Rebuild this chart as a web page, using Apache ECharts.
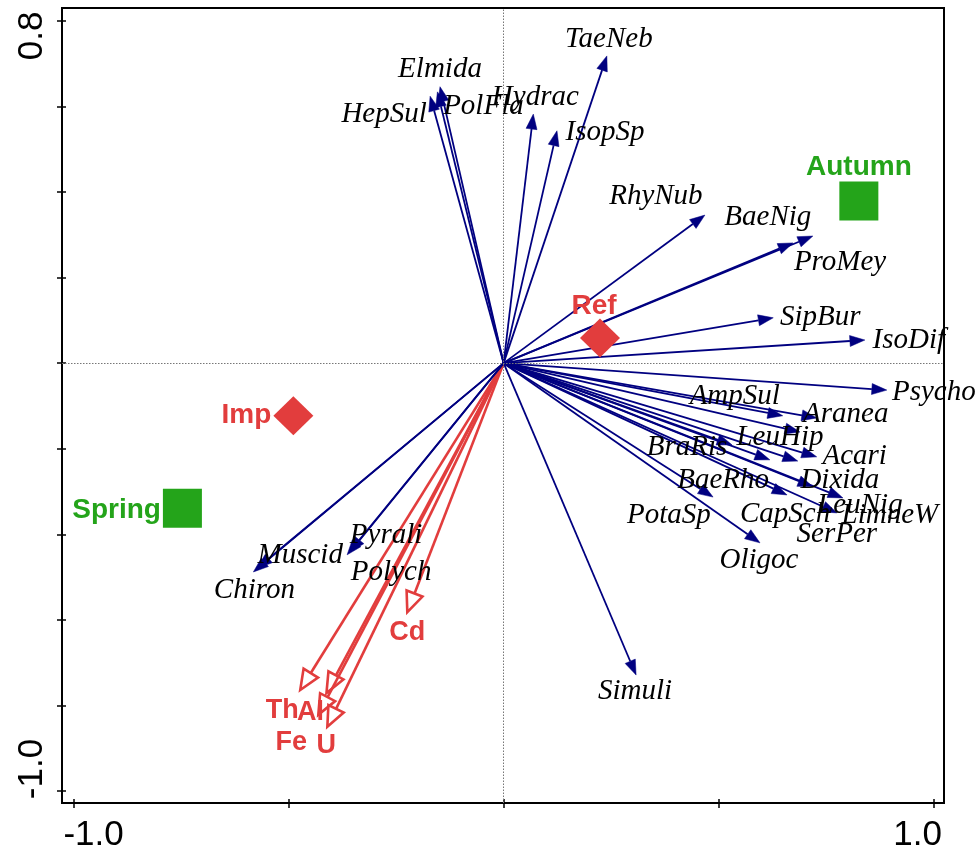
<!DOCTYPE html>
<html>
<head>
<meta charset="utf-8">
<script src="https://cdn.jsdelivr.net/npm/echarts@6/dist/echarts.min.js"></script>
<style>
  html, body { margin: 0; padding: 0; background: #fff; }
  #chart { width: 979px; height: 854px; }
</style>
</head>
<body>
<div id="chart"></div>
<script>
// ---------------- DATA ----------------
const speciesNames = ['TaeNeb','Elmida','PolFla','HepSul','Hydrac','IsopSp','RhyNub','BaeNig','ProMey','SipBur','IsoDif','Psycho','AmpSul','Aranea','LeuHip','BraRis','Acari','PotaSp','SerPer','BaeRho','CapSch','Dixida','LeuNig','LimneW','Oligoc','Simuli','Chiron','Muscid','Pyrali','Polych'];
const speciesAxis1 = [0.240,-0.148,-0.154,-0.171,0.069,0.124,0.468,0.719,0.673,0.627,0.840,0.891,0.649,0.728,0.689,0.531,0.728,0.619,0.684,0.487,0.659,0.719,0.789,0.775,0.596,0.308,-0.582,-0.573,-0.364,-0.357];
const speciesAxis2 = [0.718,0.646,0.634,0.624,0.582,0.543,0.346,0.297,0.281,0.106,0.054,-0.063,-0.123,-0.128,-0.161,-0.191,-0.219,-0.226,-0.229,-0.313,-0.308,-0.289,-0.315,-0.350,-0.420,-0.729,-0.488,-0.479,-0.448,-0.441];

const envNames = ['Cd','Th','Al','Fe','U'];
const envAxis1 = [-0.224,-0.473,-0.412,-0.431,-0.410];
const envAxis2 = [-0.582,-0.764,-0.771,-0.822,-0.850];

const sampleNames = ['Ref','Imp','Autumn','Spring'];
const sampleKinds = ['site','site','season','season'];
const sampleAxis1 = [0.224,-0.489,0.826,-0.747];
const sampleAxis2 = [0.059,-0.123,0.379,-0.339];

const xTickValues = [-1.0,-0.5,0,0.5,1.0];
const xLabelValues = [-1.0, 1.0];
const xLabelTexts = ['-1.0','1.0'];
const yTickValues = [-1.0,-0.8,-0.6,-0.4,-0.2,0,0.2,0.4,0.6,0.8];
const yLabelValues = [-1.0, 0.8];
const yLabelTexts = ['-1.0','0.8'];

// ---------------- LAYOUT / STYLE ----------------
const NAVY = '#000080';
const RED = '#E23D3D';
const GREEN = '#24A41A';
const X_RANGE = [-1.027, 1.024];
const Y_RANGE = [-1.028, 0.830];

// label offsets (pixels) from arrow tips
const speciesLabelOffset = {
  TaeNeb:[2,-17], Elmida:[0,-17], PolFla:[46,15], HepSul:[-46,18], Hydrac:[2,-17], IsopSp:[48,2],
  RhyNub:[-49,-19], BaeNig:[-45,-19], ProMey:[47,19], SipBur:[47,0], IsoDif:[44,0], Psycho:[47,2],
  AmpSul:[-48,-19], Aranea:[29,-4], LeuHip:[-20,5], BraRis:[-45,3], Acari:[38,0], PotaSp:[-101,56],
  SerPer:[39,73], BaeRho:[10,-17], CapSch:[-2,19], Dixida:[27,-6], LeuNig:[17,7], LimneW:[53,2],
  Oligoc:[-1,18], Simuli:[-1,16], Chiron:[1,18], Muscid:[43,-13], Pyrali:[39,-19], Polych:[41,21]
};
const envLabelOffset = { Cd:[0,20], Th:[-18,21], Al:[-16,20], Fe:[-27,28], U:[-1,19] };
const sampleLabelStyle = {
  Ref:{position:'top', offset:[-6,6]},
  Imp:{position:'left', offset:[2,0]},
  Autumn:{position:'top', offset:[0,4]},
  Spring:{position:'left', offset:[2,2]}
};

function arrowItem(params, api, opts) {
  const t = api.coord([api.value(0), api.value(1)]);
  const o = api.coord([0, 0]);
  const dx = t[0]-o[0], dy = t[1]-o[1];
  const L = Math.hypot(dx, dy);
  const ux = dx/L, uy = dy/L, px = -uy, py = ux;
  const bx = t[0]-ux*opts.hl, by = t[1]-uy*opts.hl;
  const pts = [[t[0],t[1]],[bx+px*opts.hw,by+py*opts.hw],[bx-px*opts.hw,by-py*opts.hw]];
  const name = opts.names[params.dataIndex];
  const off = opts.offsets[name] || [0,0];
  return {
    type: 'group',
    children: [
      { type:'line', shape:{x1:o[0], y1:o[1], x2:bx, y2:by}, style:{stroke:opts.color, lineWidth:opts.lw} },
      { type:'polygon', shape:{points:pts},
        style: opts.open ? {fill:'#fff', stroke:opts.color, lineWidth:opts.lw, lineJoin:'miter'} : {fill:opts.color, stroke:opts.color, lineWidth:0.5} },
      { type:'text', x:t[0]+off[0], y:t[1]+off[1], z2:20,
        style:{ text:name, fill:opts.textColor, font:opts.font,
                align:'center', verticalAlign:'middle', textAlign:'center', textVerticalAlign:'middle' } }
    ]
  };
}

const chart = echarts.init(document.getElementById('chart'), null, {renderer:'canvas'});

const tickStyle = { color: '#000', width: 1.5 };
const option = {
  animation: false,
  backgroundColor: '#fff',
  grid: { left: 62, top: 8, width: 882, height: 795, show: true, borderColor: '#000', borderWidth: 2, backgroundColor: 'transparent' },
  xAxis: [{
    type: 'value', min: X_RANGE[0], max: X_RANGE[1],
    splitLine: { show: false },
    axisLine: { show: true, onZero: false, lineStyle: { color: '#000', width: 2 } },
    axisTick: { show: true, customValues: xTickValues, length: 5, lineStyle: tickStyle },
    axisLabel: {
      show: true, customValues: xLabelValues, margin: 15,
      formatter: v => { const i = xLabelValues.findIndex(a => Math.abs(a - v) < 1e-9); return '{' + (i === 0 ? 'first' : 'last') + '|' + xLabelTexts[i] + '}'; },
      rich: {
        first: { fontSize: 35, fontFamily: 'Liberation Sans', color: '#000', padding: [0,0,0,40] },
        last: { fontSize: 35, fontFamily: 'Liberation Sans', color: '#000', padding: [0,32,0,0] }
      }
    }
  }, {
    type: 'value', min: X_RANGE[0], max: X_RANGE[1], position: 'bottom',
    splitLine: { show: false }, axisLine: { show: false, onZero: false },
    axisTick: { show: true, inside: true, customValues: xTickValues, length: 4, lineStyle: tickStyle },
    axisLabel: { show: false }
  }],
  yAxis: [{
    type: 'value', min: Y_RANGE[0], max: Y_RANGE[1],
    splitLine: { show: false },
    axisLine: { show: true, onZero: false, lineStyle: { color: '#000', width: 2 } },
    axisTick: { show: true, customValues: yTickValues, length: 5, lineStyle: tickStyle },
    axisLabel: {
      show: true, customValues: yLabelValues, rotate: 90, margin: 12,
      formatter: v => { const i = yLabelValues.findIndex(a => Math.abs(a - v) < 1e-9); return '{' + (i === 0 ? 'bot' : 'top') + '|' + yLabelTexts[i] + '}'; },
      rich: {
        bot: { fontSize: 35, fontFamily: 'Liberation Sans', color: '#000', padding: [0,0,0,44] },
        top: { fontSize: 35, fontFamily: 'Liberation Sans', color: '#000', padding: [0,30,0,0] }
      }
    }
  }, {
    type: 'value', min: Y_RANGE[0], max: Y_RANGE[1], position: 'left',
    splitLine: { show: false }, axisLine: { show: false, onZero: false },
    axisTick: { show: true, inside: true, customValues: yTickValues, length: 4, lineStyle: tickStyle },
    axisLabel: { show: false }
  }],
  series: [
    {
      type: 'scatter', z: 1, silent: true, xAxisIndex: 0, yAxisIndex: 0,
      data: [[0,0]], symbolSize: 0,
      markLine: {
        silent: true, symbol: 'none', animation: false,
        label: { show: false },
        lineStyle: { type: [1.5, 1.5], color: '#777', width: 1 },
        data: [{ xAxis: 0 }, { yAxis: 0 }]
      }
    },
    {
      type: 'custom', z: 3, silent: true, xAxisIndex: 0, yAxisIndex: 0,
      data: envNames.map((n, i) => [envAxis1[i], envAxis2[i]]),
      encode: { x: 0, y: 1 },
      renderItem: (p, api) => arrowItem(p, api, { names: envNames, offsets: envLabelOffset, color: RED, lw: 2.6, hl: 20, hw: 8.5, open: true, textColor: RED, font: 'bold 27px "Liberation Sans"' })
    },
    {
      type: 'custom', z: 4, silent: true, xAxisIndex: 0, yAxisIndex: 0,
      data: speciesNames.map((n, i) => [speciesAxis1[i], speciesAxis2[i]]),
      encode: { x: 0, y: 1 },
      renderItem: (p, api) => arrowItem(p, api, { names: speciesNames, offsets: speciesLabelOffset, color: NAVY, lw: 1.8, hl: 15, hw: 5.5, open: false, textColor: '#000', font: 'italic 29px "Liberation Serif"' })
    },
    {
      type: 'scatter', z: 6, silent: true, xAxisIndex: 0, yAxisIndex: 0,
      data: sampleNames.map((n, i) => {
        const site = sampleKinds[i] === 'site';
        const col = site ? RED : GREEN;
        return {
          name: n, value: [sampleAxis1[i], sampleAxis2[i]],
          symbol: site ? 'diamond' : 'rect',
          symbolSize: site ? [40, 39] : 39,
          itemStyle: { color: col, opacity: 1 },
          label: {
            show: true, formatter: '{b}', color: col, opacity: 1, fontWeight: 'bold', fontSize: 28, fontFamily: 'Liberation Sans',
            position: sampleLabelStyle[n].position, offset: sampleLabelStyle[n].offset, distance: 4
          }
        };
      })
    }
  ]
};
chart.setOption(option);
</script>
</body>
</html>
